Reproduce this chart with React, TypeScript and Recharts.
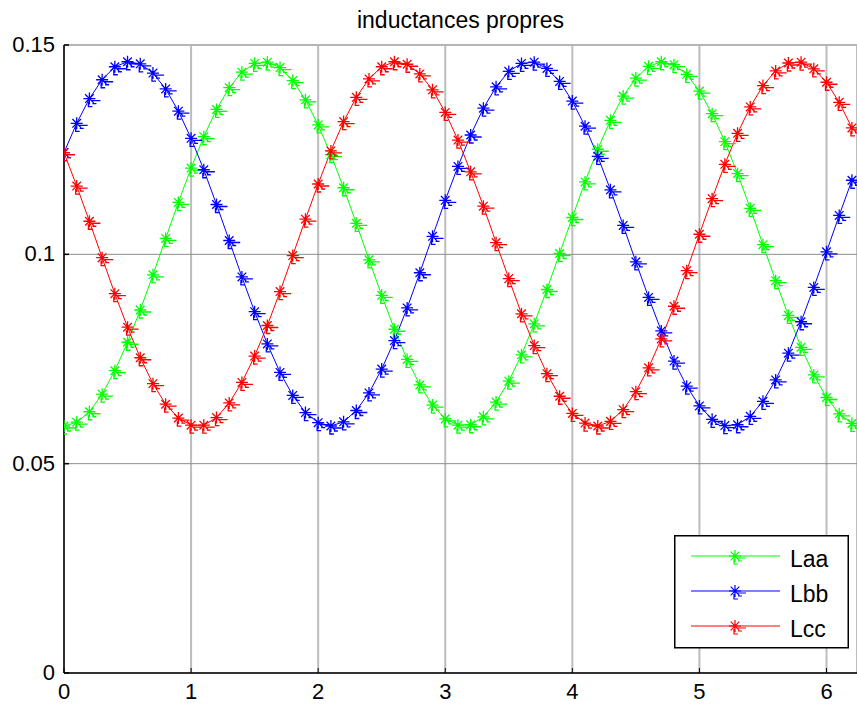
import React from 'react'
import { LineChart, Line, XAxis, YAxis, CartesianGrid, Legend, ReferenceLine } from 'recharts'

// rotor angle (rad), sampled every 0.1
const theta = [
  0, 0.1, 0.2, 0.3, 0.4, 0.5, 0.6, 0.7, 0.8, 0.9,
  1.0, 1.1, 1.2, 1.3, 1.4, 1.5, 1.6, 1.7, 1.8, 1.9,
  2.0, 2.1, 2.2, 2.3, 2.4, 2.5, 2.6, 2.7, 2.8, 2.9,
  3.0, 3.1, 3.2, 3.3, 3.4, 3.5, 3.6, 3.7, 3.8, 3.9,
  4.0, 4.1, 4.2, 4.3, 4.4, 4.5, 4.6, 4.7, 4.8, 4.9,
  5.0, 5.1, 5.2, 5.3, 5.4, 5.5, 5.6, 5.7, 5.8, 5.9,
  6.0, 6.1, 6.2,
]

// self inductances (H)
const laa = [
  0.0590, 0.0599, 0.0624, 0.0666, 0.0722, 0.0790, 0.0867, 0.0951, 0.1038, 0.1124,
  0.1206, 0.1281, 0.1346, 0.1398, 0.1435, 0.1456, 0.1459, 0.1446, 0.1415, 0.1369,
  0.1309, 0.1238, 0.1159, 0.1074, 0.0987, 0.0902, 0.0821, 0.0749, 0.0688, 0.0640,
  0.0607, 0.0592, 0.0593, 0.0612, 0.0647, 0.0697, 0.0760, 0.0834, 0.0916, 0.1002,
  0.1088, 0.1173, 0.1251, 0.1320, 0.1378, 0.1421, 0.1449, 0.1460, 0.1453, 0.1430,
  0.1390, 0.1336, 0.1269, 0.1193, 0.1110, 0.1023, 0.0937, 0.0854, 0.0778, 0.0712,
  0.0658, 0.0619, 0.0596,
]
const lbb = [
  0.1243, 0.1313, 0.1372, 0.1417, 0.1448, 0.1460, 0.1455, 0.1433, 0.1395, 0.1342,
  0.1277, 0.1202, 0.1119, 0.1033, 0.0946, 0.0863, 0.0786, 0.0718, 0.0663, 0.0622,
  0.0598, 0.0590, 0.0600, 0.0627, 0.0669, 0.0726, 0.0794, 0.0872, 0.0956, 0.1043,
  0.1129, 0.1210, 0.1285, 0.1349, 0.1400, 0.1437, 0.1456, 0.1459, 0.1444, 0.1413,
  0.1366, 0.1306, 0.1234, 0.1154, 0.1069, 0.0982, 0.0897, 0.0817, 0.0745, 0.0685,
  0.0638, 0.0606, 0.0591, 0.0593, 0.0613, 0.0649, 0.0700, 0.0764, 0.0839, 0.0921,
  0.1006, 0.1093, 0.1177,
]
const lcc = [
  0.1243, 0.1163, 0.1079, 0.0992, 0.0906, 0.0826, 0.0753, 0.0691, 0.0642, 0.0609,
  0.0592, 0.0592, 0.0610, 0.0645, 0.0694, 0.0757, 0.0830, 0.0911, 0.0997, 0.1084,
  0.1168, 0.1247, 0.1317, 0.1375, 0.1419, 0.1448, 0.1460, 0.1454, 0.1431, 0.1393,
  0.1339, 0.1273, 0.1197, 0.1115, 0.1028, 0.0942, 0.0858, 0.0782, 0.0715, 0.0661,
  0.0620, 0.0597, 0.0590, 0.0601, 0.0629, 0.0672, 0.0729, 0.0798, 0.0876, 0.0961,
  0.1048, 0.1133, 0.1215, 0.1289, 0.1352, 0.1403, 0.1438, 0.1457, 0.1459, 0.1443,
  0.1411, 0.1363, 0.1302,
]

const xTicks = [0, 1, 2, 3, 4, 5, 6]
const yTicks = [0, 0.05, 0.1, 0.15]
const yLabels = ['0', '0.05', '0.1', '0.15']

const series = [
  { key: 'laa', name: 'Laa', color: '#00ff00' },
  { key: 'lbb', name: 'Lbb', color: '#0000ff' },
  { key: 'lcc', name: 'Lcc', color: '#ff0000' },
]

const data = theta.map((x, i) => ({ x, laa: laa[i], lbb: lbb[i], lcc: lcc[i] }))

const FONT = '"Liberation Sans", Arial, sans-serif'

// matlab-ish '*' marker, with the little smeared dashes it gets when exported
function starPath(cx: number, cy: number) {
  const r = 6
  const d = 4.3
  return (
    `M${cx - r},${cy}H${cx + r}M${cx},${cy - r}V${cy + r}` +
    `M${cx - d},${cy - d}L${cx + d},${cy + d}M${cx - d},${cy + d}L${cx + d},${cy - d}` +
    `M${cx + 2},${cy + 2}H${cx + 11}M${cx + 3},${cy + 5}H${cx + 7}` +
    `M${cx - 1},${cy + 3}V${cy + 8}H${cx + 3}`
  )
}

function Star(props: any) {
  const { cx, cy, stroke } = props
  if (cx == null || cy == null) return null
  return <path d={starPath(cx, cy)} stroke={stroke} strokeWidth={1.3} fill='none' />
}

function BottomTick(props: any) {
  const { x, y, payload } = props
  return (
    <g>
      <line x1={x} y1={y} x2={x} y2={y - 5} stroke='#000' />
      <text x={x} y={y + 26} textAnchor='middle' fontSize={22} fontFamily={FONT} fill='#000'>
        {payload.value}
      </text>
    </g>
  )
}

function TopTick(props: any) {
  const { x, y } = props
  return <line x1={x} y1={y} x2={x} y2={y + 4} stroke='#000' strokeWidth={2} />
}

function LeftTick(props: any) {
  const { x, y, payload, index } = props
  return (
    <g>
      <line x1={x} y1={y} x2={x + 5} y2={y} stroke='#000' strokeWidth={1.5} />
      <text x={x - 9} y={y + 7} textAnchor='end' fontSize={22} fontFamily={FONT} fill='#000'>
        {yLabels[index] ?? payload.value}
      </text>
    </g>
  )
}

function LegendBox() {
  return (
    <svg width={176} height={114} style={{ display: 'block' }}>
      <rect x={0.75} y={0.75} width={173.5} height={112} fill='#fff' stroke='#000' strokeWidth={1.5} />
      {series.map((s, i) => {
        const cy = 21 + i * 35
        return (
          <g key={s.key}>
            <line x1={17} y1={cy} x2={106} y2={cy} stroke={s.color} strokeWidth={1.2} />
            <path d={starPath(61, cy)} stroke={s.color} strokeWidth={1.2} fill='none' />
            <text x={116} y={cy + 11} fontSize={23} fontFamily={FONT} fill='#000'>
              {s.name}
            </text>
          </g>
        )
      })}
    </svg>
  )
}

export default function App() {
  return (
    <div style={{ position: 'absolute', left: 0, top: 0, width: 857, height: 704, background: '#fff' }}>
      <div
        style={{
          position: 'absolute',
          top: 7,
          left: 0,
          width: 921,
          textAlign: 'center',
          fontFamily: FONT,
          fontSize: 23,
          lineHeight: '26px',
          color: '#000',
          zIndex: 2,
        }}
      >
        inductances propres
      </div>
      <LineChart width={857} height={704} data={data} margin={{ top: 45, right: 0, bottom: 0, left: 0 }}>
        <CartesianGrid horizontal={false} stroke='#bdbdbd' strokeWidth={2} />
        <CartesianGrid vertical={false} stroke='#8c8c8c' strokeWidth={1} />
        <ReferenceLine y={0.15} stroke='#b5b5b5' strokeWidth={2} />
        <XAxis
          dataKey='x'
          type='number'
          domain={[0, 6.24]}
          ticks={xTicks}
          allowDataOverflow
          height={31}
          tickSize={0}
          tickMargin={0}
          axisLine={{ stroke: '#000', strokeWidth: 1.5 }}
          tickLine={false}
          tick={<BottomTick />}
          interval={0}
        />
        <XAxis
          xAxisId='top'
          orientation='top'
          dataKey='x'
          type='number'
          domain={[0, 6.24]}
          ticks={xTicks}
          height={0}
          tickSize={0}
          tickMargin={0}
          axisLine={false}
          tickLine={false}
          tick={<TopTick />}
          interval={0}
        />
        <YAxis
          type='number'
          domain={[0, 0.15]}
          ticks={yTicks}
          width={64}
          tickSize={0}
          tickMargin={0}
          axisLine={{ stroke: '#000', strokeWidth: 1.5 }}
          tickLine={false}
          tick={<LeftTick />}
          interval={0}
        />
        {series.map((s) => (
          <Line
            key={s.key}
            type='linear'
            dataKey={s.key}
            name={s.name}
            stroke={s.color}
            strokeWidth={1}
            dot={<Star />}
            activeDot={false}
            isAnimationActive={false}
          />
        ))}
        <Legend
          verticalAlign='middle'
          layout='horizontal'
          content={<LegendBox />}
          wrapperStyle={{ position: 'absolute', left: 674, top: 535, width: 176, height: 114 }}
        />
      </LineChart>
    </div>
  )
}
